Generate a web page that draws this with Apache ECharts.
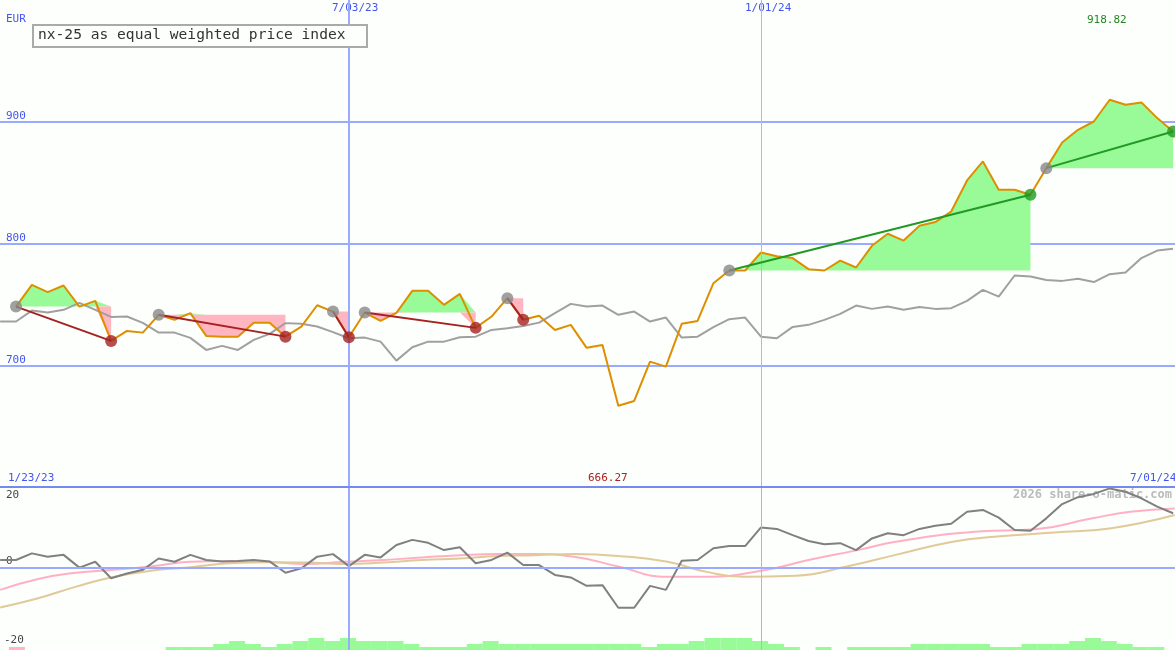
<!DOCTYPE html>
<html>
<head>
<meta charset="utf-8">
<script src="https://cdn.jsdelivr.net/npm/echarts@6/dist/echarts.min.js"></script>
<style>
html,body{margin:0;padding:0;background:#fcfffc;}
#main{width:1175px;height:650px;}
</style>
</head>
<body>
<div id="main"></div>
<script>
// weekly index, 0 = 1/30/23 ... 73 = last week
var closeVals = [748.2,766.0,760.0,765.5,748.2,752.9,720.0,728.2,726.8,741.4,
  737.3,742.8,724.1,723.5,723.5,735.0,735.0,723.5,731.8,749.3,
  744.1,723.0,743.3,736.4,743.0,761.1,761.1,749.6,758.6,730.7,
  740.0,755.1,737.3,740.6,729.0,733.2,714.3,716.7,666.8,670.7,
  703.0,698.9,734.0,736.4,767.4,777.8,777.8,792.6,789.5,788.0,
  778.9,777.8,786.0,780.3,798.1,808.0,802.4,814.5,817.6,826.3,
  851.8,867.4,844.1,844.1,840.0,861.9,883.0,893.4,900.2,918.1,
  914.0,915.9,903.0,892.0];
// moving average, starts one week earlier (index -1)
var avgVals = [735.9,735.9,744.9,743.3,745.5,751.2,745.5,739.7,740.0,734.8,726.8,
  726.8,722.5,712.6,715.9,712.6,720.8,725.8,734.6,734.0,731.8,
  727.2,722.2,722.7,719.4,703.8,714.8,719.4,719.4,723.0,723.5,
  729.0,730.4,732.3,735.0,742.8,750.4,748.2,749.0,741.4,744.1,
  735.9,739.2,722.7,723.5,731.3,737.8,739.2,723.5,722.2,731.5,
  733.2,737.3,742.2,749.0,746.3,748.2,745.5,747.9,746.3,746.9,
  752.9,761.9,756.4,773.7,772.9,770.1,769.3,771.0,768.3,774.8,
  776.1,788.0,794.2,795.6];
// trends: [start, end, kind]
var trends = [[0,6,'down'],[9,17,'down'],[20,21,'down'],[22,29,'down'],[31,32,'down'],
  [45,64,'up'],[65,73,'up']];

// lower panel, index -1..73
var momVals = [2.2,2.2,4.0,3.1,3.6,0.1,1.7,-2.8,-1.5,-0.5,2.6,
  1.7,3.6,2.2,1.8,1.9,2.2,1.8,-1.3,-0.1,3.1,
  3.8,0.5,3.6,2.9,6.3,7.7,6.9,4.9,5.7,1.3,
  2.2,4.2,0.8,0.8,-1.9,-2.6,-4.9,-4.7,-10.9,-10.9,
  -4.9,-6.0,2.0,2.2,5.4,6.0,6.0,11.1,10.7,9.0,
  7.4,6.5,6.8,4.9,8.1,9.5,9.0,10.7,11.6,12.1,
  15.4,15.9,13.8,10.4,10.2,13.6,17.5,19.4,20.3,21.8,
  20.9,19.1,16.8,15.0];
var pinkX = [-1.0,1.4,3.8,6.2,8.6,11.0,13.5,15.9,18.3,20.7,23.2,25.6,28.0,30.4,32.8,35.2,38.0,41.1,43.5,47.1,50.0,53.1,55.5,60.7,64.3,67.9,70.3,73.1];
var pinkVals = [-6.0,-3.0,-1.3,-0.5,0.5,1.7,1.9,1.7,1.1,1.7,2.2,2.9,3.5,3.8,3.8,3.1,0.4,-2.4,-2.4,-0.7,2.2,4.9,7.2,10.0,10.6,13.6,15.4,16.3];
var tanX = [-1.0,1.4,3.8,6.2,8.6,11.0,13.5,15.9,18.3,20.7,23.2,25.6,28.0,30.4,32.8,35.2,38.0,41.1,43.5,45.9,49.2,52.4,55.5,59.1,61.9,65.5,69.1,73.1];
var tanVals = [-10.8,-8.3,-5.1,-2.4,-0.7,0.2,1.3,1.6,1.5,1.1,1.5,2.2,2.6,3.3,3.5,3.8,3.3,1.7,-1.0,-2.4,-2.1,0.4,3.6,7.2,8.6,9.7,10.9,14.5];
// volume-like steps, one per week starting at week 10
var volStart = 10;
var volLevels = [1,1,1,2,3,2,1,2,3,4,3,4,3,3,3,2,1,1,1,2,3,2,2,2,2,2,2,2,2,2,1,2,2,3,4,4,4,3,2,1,0,1,0,1,1,1,1,2,2,2,2,2,1,1,2,2,2,3,4,3,2,1,1];

var ele = echarts.init(document.getElementById('main'));
var mono = 'DejaVu Sans Mono';
var blue = '#4455ee';

var closeData = [], avgData = [], momData = [], pinkData = [], tanData = [], volData = [];
for (var i = 0; i < closeVals.length; i++) closeData.push([i, closeVals[i]]);
for (var i = 0; i < avgVals.length; i++) avgData.push([i - 1, avgVals[i]]);
for (var i = 0; i < momVals.length; i++) momData.push([i - 1, momVals[i]]);
for (var i = 0; i < pinkX.length; i++) pinkData.push([pinkX[i], pinkVals[i]]);
for (var i = 0; i < tanX.length; i++) tanData.push([tanX[i], tanVals[i]]);
for (var i = 0; i < volLevels.length; i++) volData.push([volStart + i + 0.5, volLevels[i]]);

var series = [];
// fills between price and trend start level
trends.forEach(function (t) {
  var base = closeVals[t[0]];
  var up = [], dn = [];
  for (var k = t[0]; k <= t[1]; k++) {
    up.push([k, Math.max(closeVals[k], base)]);
    dn.push([k, Math.min(closeVals[k], base)]);
  }
  [[up, '#98fb98'], [dn, '#ffb6c1']].forEach(function (p) {
    series.push({
      type: 'line', xAxisIndex: 0, yAxisIndex: 0, data: p[0], symbol: 'none',
      lineStyle: { width: 0, opacity: 0 }, areaStyle: { color: p[1], opacity: 1, origin: base },
      silent: true, z: 1
    });
  });
});
series.push({
  type: 'line', xAxisIndex: 0, yAxisIndex: 0, data: avgData, symbol: 'none',
  lineStyle: { color: '#a0a0a0', width: 2 }, z: 3
});
series.push({
  type: 'line', xAxisIndex: 0, yAxisIndex: 0, data: closeData, symbol: 'none',
  lineStyle: { color: '#dd8f00', width: 2 }, z: 4,
  markLine: {
    silent: true, symbol: 'none', label: { show: false },
    data: [{ xAxis: 21, lineStyle: { color: '#99aaff', width: 2, type: 'solid' } },
           { xAxis: 47, lineStyle: { color: '#bbbbbb', width: 1, type: 'solid' } }]
  }
});
trends.forEach(function (t) {
  var c = t[2] == 'up' ? '#229922' : '#a52222';
  series.push({
    type: 'line', xAxisIndex: 0, yAxisIndex: 0, symbol: 'none', z: 5,
    data: [[t[0], closeVals[t[0]]], [t[1], closeVals[t[1]]]],
    lineStyle: { color: c, width: 2 }
  });
  series.push({
    type: 'scatter', xAxisIndex: 0, yAxisIndex: 0, symbolSize: 12, z: 6,
    data: [{ value: [t[0], closeVals[t[0]]], itemStyle: { color: '#888888' } },
           { value: [t[1], closeVals[t[1]]], itemStyle: { color: c } }]
  });
});
// lower panel
series.push({
  type: 'bar', xAxisIndex: 1, yAxisIndex: 2, data: volData, barWidth: 16,
  itemStyle: { color: '#98fb98' }, silent: true, z: 1
});
series.push({
  type: 'bar', xAxisIndex: 1, yAxisIndex: 2, data: [[-0.5, 1]], barWidth: 16,
  itemStyle: { color: '#ffb6c1' }, silent: true, z: 1
});
series.push({
  type: 'line', xAxisIndex: 1, yAxisIndex: 1, data: pinkData, symbol: 'none', smooth: true,
  lineStyle: { color: '#ffb0c4', width: 2 }, z: 2,
  markLine: {
    silent: true, symbol: 'none', label: { show: false },
    data: [{ yAxis: 0, lineStyle: { color: '#99aaff', width: 2, type: 'solid' } },
           { xAxis: 21, lineStyle: { color: '#99aaff', width: 2, type: 'solid' } },
           { xAxis: 47, lineStyle: { color: '#aab4f0', width: 1, type: 'solid' } }]
  }
});
series.push({
  type: 'line', xAxisIndex: 1, yAxisIndex: 1, data: tanData, symbol: 'none', smooth: true,
  lineStyle: { color: '#e2c99a', width: 2 }, z: 2
});
series.push({
  type: 'line', xAxisIndex: 1, yAxisIndex: 1, data: momData, symbol: 'none',
  lineStyle: { color: '#808080', width: 2 }, z: 3
});

var xBase = { type: 'value', min: -1.01, max: 73.12, show: false, splitLine: { show: false } };
var option = {
  backgroundColor: '#fcfffc',
  animation: false,
  grid: [
    { left: 0, right: 0, top: 0, height: 487 },
    { left: 0, right: 0, top: 487, height: 163 }
  ],
  xAxis: [Object.assign({ gridIndex: 0 }, xBase), Object.assign({ gridIndex: 1 }, xBase)],
  yAxis: [
    {
      gridIndex: 0, type: 'value', min: 600, max: 1000, interval: 100,
      axisLine: { show: false }, axisTick: { show: false },
      splitLine: { show: true, showMinLine: false, showMaxLine: false, lineStyle: { color: '#99aaff', width: 2 } },
      axisLabel: { inside: true, showMinLabel: false, showMaxLabel: false, margin: 6,
        verticalAlign: 'bottom', color: blue, fontFamily: mono, fontSize: 11 }
    },
    {
      gridIndex: 1, type: 'value', min: -22.47, max: 22.19, show: false, splitLine: { show: false }
    },
    {
      gridIndex: 1, type: 'value', min: 0, max: 54.3, show: false, splitLine: { show: false }
    }
  ],
  series: series,
  graphic: [
    { type: 'rect', shape: { x: 0, y: 486, width: 1175, height: 2 }, style: { fill: '#7788ee' }, z: 10 },
    { type: 'text', left: 6, top: 14, style: { text: 'EUR', fill: blue, font: '11px ' + mono } },
    { type: 'rect', shape: { x: 33, y: 25, width: 334, height: 22 }, style: { fill: '#fcfffc', stroke: '#aaaaaa', lineWidth: 2 }, z: 10 },
    { type: 'text', left: 38, top: 28, z: 11, style: { text: 'nx-25 as equal weighted price index', fill: '#333333', font: '14.6px ' + mono } },
    { type: 'text', left: 332, top: 3, style: { text: '7/03/23', fill: blue, font: '11px ' + mono } },
    { type: 'text', left: 745, top: 3, style: { text: '1/01/24', fill: blue, font: '11px ' + mono } },
    { type: 'text', left: 1087, top: 15, style: { text: '918.82', fill: '#228822', font: '11px ' + mono } },
    { type: 'text', left: 8, top: 473, style: { text: '1/23/23', fill: blue, font: '11px ' + mono } },
    { type: 'text', left: 588, top: 473, style: { text: '666.27', fill: '#aa2222', font: '11px ' + mono } },
    { type: 'text', left: 1130, top: 473, style: { text: '7/01/24', fill: blue, font: '11px ' + mono } },
    { type: 'text', right: 3, top: 489, style: { text: '2026 share-o-matic.com', fill: '#bbbbbb', font: 'bold 12px ' + mono } },
    { type: 'text', left: 6, top: 490, style: { text: '20', fill: '#444444', font: '11px ' + mono } },
    { type: 'text', left: 6, top: 556, style: { text: '0', fill: '#444444', font: '11px ' + mono } },
    { type: 'text', left: 4, top: 635, style: { text: '-20', fill: '#444444', font: '11px ' + mono } }
  ]
};
ele.setOption(option);
</script>
</body>
</html>
